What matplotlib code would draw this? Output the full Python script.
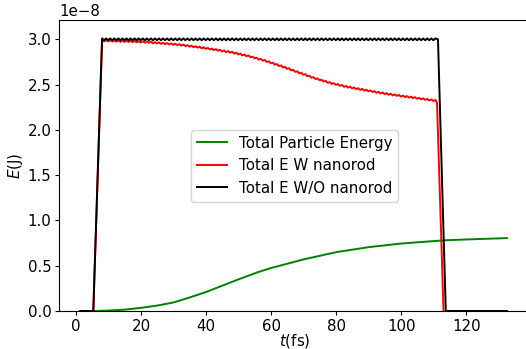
import matplotlib
matplotlib.use("Agg")
import matplotlib.pyplot as plt
import numpy as np

# ---- data (energies in units of 1e-8 J, time in fs) ----
# plateau sample times (every 0.625 fs from 8.0 to 110.5)
t_plateau = np.arange(165) * 0.625 + 8.0

red_plateau = [
    2.992, 2.977, 2.991, 2.976, 2.990, 2.975, 2.989, 2.974,
    2.987, 2.972, 2.986, 2.971, 2.985, 2.970, 2.984, 2.969,
    2.982, 2.967, 2.980, 2.965, 2.978, 2.963, 2.976, 2.961,
    2.973, 2.957, 2.969, 2.954, 2.966, 2.950, 2.963, 2.947,
    2.959, 2.943, 2.955, 2.939, 2.951, 2.935, 2.947, 2.930,
    2.942, 2.925, 2.936, 2.919, 2.930, 2.913, 2.924, 2.908,
    2.919, 2.901, 2.912, 2.895, 2.905, 2.888, 2.898, 2.881,
    2.892, 2.874, 2.885, 2.866, 2.877, 2.859, 2.870, 2.852,
    2.862, 2.843, 2.852, 2.833, 2.842, 2.823, 2.832, 2.813,
    2.822, 2.802, 2.809, 2.790, 2.797, 2.777, 2.784, 2.765,
    2.772, 2.750, 2.757, 2.735, 2.742, 2.720, 2.727, 2.705,
    2.712, 2.690, 2.696, 2.674, 2.680, 2.657, 2.663, 2.641,
    2.647, 2.625, 2.631, 2.609, 2.615, 2.592, 2.598, 2.576,
    2.582, 2.561, 2.568, 2.547, 2.554, 2.534, 2.541, 2.520,
    2.527, 2.507, 2.517, 2.497, 2.506, 2.487, 2.496, 2.476,
    2.485, 2.467, 2.477, 2.458, 2.469, 2.450, 2.460, 2.442,
    2.452, 2.434, 2.444, 2.426, 2.436, 2.418, 2.428, 2.410,
    2.420, 2.402, 2.413, 2.395, 2.406, 2.388, 2.399, 2.381,
    2.392, 2.375, 2.386, 2.368, 2.379, 2.362, 2.373, 2.356,
    2.367, 2.350, 2.361, 2.343, 2.354, 2.337, 2.348, 2.331,
    2.342, 2.325, 2.336, 2.319, 2.330,
]

black_plateau = [
    3.010, 2.990, 3.010, 2.990, 3.010, 2.990, 3.010, 2.990,
    3.010, 2.990, 3.010, 2.990, 3.010, 2.990, 3.010, 2.990,
    3.010, 2.990, 3.010, 2.990, 3.010, 2.990, 3.010, 2.990,
    3.010, 2.990, 3.010, 2.990, 3.010, 2.990, 3.010, 2.990,
    3.010, 2.990, 3.010, 2.990, 3.010, 2.990, 3.010, 2.990,
    3.010, 2.990, 3.010, 2.990, 3.010, 2.990, 3.010, 2.990,
    3.010, 2.990, 3.010, 2.990, 3.010, 2.990, 3.010, 2.990,
    3.010, 2.990, 3.010, 2.990, 3.010, 2.990, 3.010, 2.990,
    3.010, 2.990, 3.010, 2.990, 3.010, 2.990, 3.010, 2.990,
    3.010, 2.990, 3.010, 2.990, 3.010, 2.990, 3.010, 2.990,
    3.010, 2.990, 3.010, 2.990, 3.010, 2.990, 3.010, 2.990,
    3.010, 2.990, 3.010, 2.990, 3.010, 2.990, 3.010, 2.990,
    3.010, 2.990, 3.010, 2.990, 3.010, 2.990, 3.010, 2.990,
    3.010, 2.990, 3.010, 2.990, 3.010, 2.990, 3.010, 2.990,
    3.010, 2.990, 3.010, 2.990, 3.010, 2.990, 3.010, 2.990,
    3.010, 2.990, 3.010, 2.990, 3.010, 2.990, 3.010, 2.990,
    3.010, 2.990, 3.010, 2.990, 3.010, 2.990, 3.010, 2.990,
    3.010, 2.990, 3.010, 2.990, 3.010, 2.990, 3.010, 2.990,
    3.010, 2.990, 3.010, 2.990, 3.010, 2.990, 3.010, 2.990,
    3.010, 2.990, 3.010, 2.990, 3.010, 2.990, 3.010, 2.990,
    3.010, 2.990, 3.010, 2.990, 3.010,
]

# edges of the pulses
red_t_start = [1.3, 5.3]
red_v_start = [0.0, 0.0]
red_t_end = [111.0, 113.0]
red_v_end = [2.30, 0.0]

black_t_start = [1.3, 5.3]
black_v_start = [0.0, 0.0]
black_t_end = [111.3, 113.7, 132.5]
black_v_end = [3.0, 0.0, 0.0]

# total particle energy
green_t = [1.3, 5.3, 10, 15, 20, 25, 30, 35, 40, 45, 50, 56, 60, 70, 80, 90,
           100, 113, 120, 132.5]
green_v = [0.0, 0.0, 0.005, 0.015, 0.035, 0.06, 0.095, 0.15, 0.21, 0.28, 0.35,
           0.43, 0.475, 0.57, 0.65, 0.705, 0.745, 0.78, 0.79, 0.805]

labels = ["Total Particle Energy", "Total E W nanorod", "Total E W/O nanorod"]

# ---- assemble series ----
red_t = np.concatenate([red_t_start, t_plateau, red_t_end])
red_v = np.concatenate([red_v_start, red_plateau, red_v_end]) * 1e-8
black_t = np.concatenate([black_t_start, t_plateau, black_t_end])
black_v = np.concatenate([black_v_start, black_plateau, black_v_end]) * 1e-8
green_val = np.array(green_v) * 1e-8

plt.rcParams.update({
    "font.size": 10.8,
    "xtick.major.size": 3.0,
    "ytick.major.size": 3.0,
    "xtick.major.pad": 2.5,
    "ytick.major.pad": 2.5,
})

fig = plt.figure(figsize=(5.26, 3.49), dpi=100)
ax = fig.add_axes([59 / 526, 1 - 311 / 349, (530 - 59) / 526, (311 - 20.3) / 349])

ax.plot(green_t, green_val, color="g", lw=1.4, label=labels[0])
ax.plot(red_t, red_v, color="r", lw=1.4, label=labels[1])
ax.plot(black_t, black_v, color="k", lw=1.4, label=labels[2])

ax.set_xlim(-5.25, 139.6)
ax.set_ylim(0, 3.21e-8)
ax.set_xticks([0, 20, 40, 60, 80, 100, 120])
ax.set_yticks(np.arange(0, 3.01, 0.5) * 1e-8)
ax.set_xlabel("$t$(fs)", labelpad=-1.5)
ax.set_ylabel("$E$(J)", labelpad=2)
ax.legend(loc="center")

fig.savefig("out.png", dpi=100)
